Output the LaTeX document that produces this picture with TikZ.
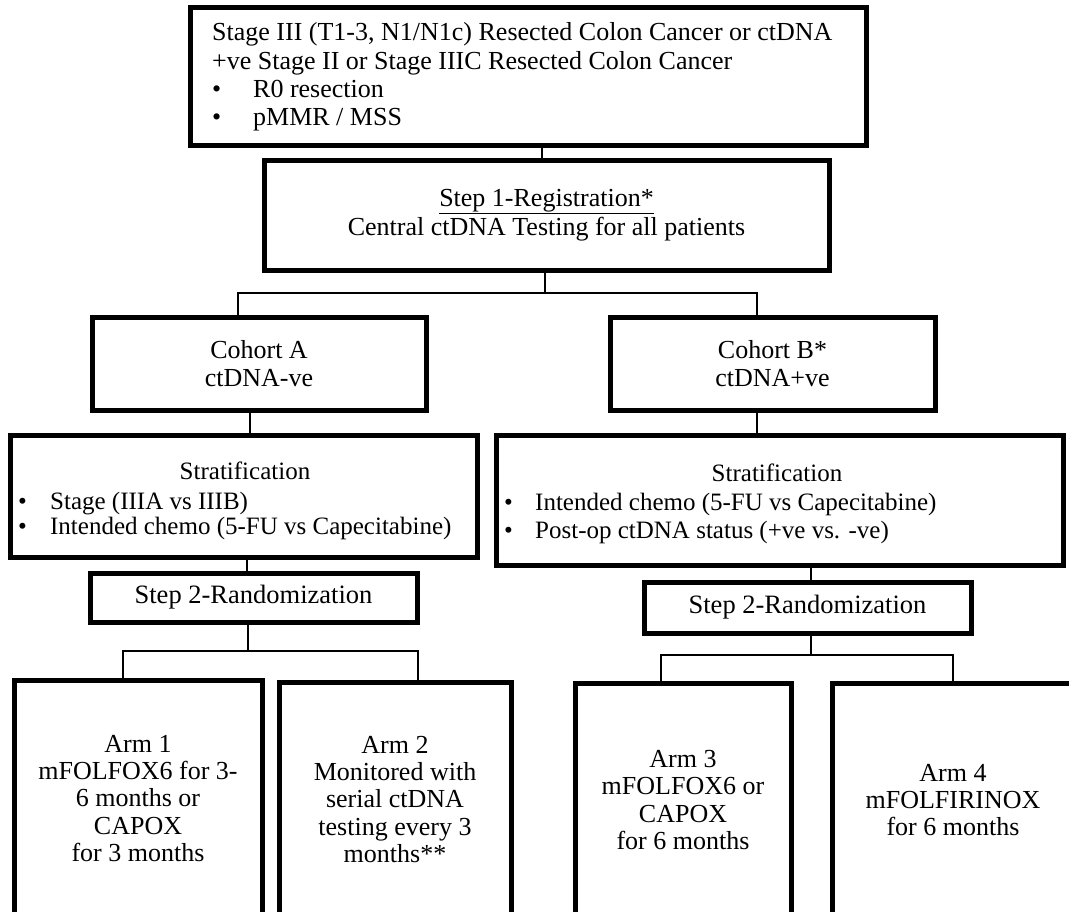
\documentclass[tikz,border=0pt]{standalone}
\usepackage{fontspec}
\setmainfont{Liberation Serif}
\begin{document}
\begin{tikzpicture}[x=1pt,y=-1pt,
  box/.style={draw=black, line width=5pt, fill=white, inner sep=0pt, align=center, font=\fontsize{26}{28}\selectfont},
  conn/.style={draw=black, line width=1.6pt},
  txt/.style={inner sep=0pt, font=\fontsize{26}{28}\selectfont},
  stxt/.style={inner sep=0pt, font=\fontsize{25}{28}\selectfont}]
\useasboundingbox (0,0) rectangle (1069,911);
\fill[white] (0,0) rectangle (1069,911);
\clip (0,0) rectangle (1069,911);

% boxes
\node[box, minimum width=676pt, minimum height=138pt] (top) at (528,76) {};
\node[txt, anchor=west, align=left, font=\fontsize{26}{28.4}\selectfont] (toptext) at (212,77)
 {Stage III (T1-3, N1/N1c) Resected Colon Cancer or ctDNA\\
  +ve Stage II or Stage IIIC Resected Colon Cancer\\
  \makebox[41pt][l]{\textbullet}R0 resection\\
  \makebox[41pt][l]{\textbullet}pMMR / MSS};

\node[box, minimum width=565pt, minimum height=110pt, font=\fontsize{26}{29}\selectfont] (step1) at (546.5,215)
 {\underline{Step 1-Registration*}\\Central ctDNA Testing for all patients};

\node[box, minimum width=334pt, minimum height=93pt] (cohA) at (259,363.5) {Cohort A\\ctDNA-ve};
\node[box, minimum width=325pt, minimum height=93pt] (cohB) at (772.5,363.5) {Cohort B*\\ctDNA+ve};

\node[box, minimum width=467pt, minimum height=122pt] (stratA) at (243.5,496) {};
\node[stxt, anchor=base] (stratAt) at (245,479) {Stratification};
\node[stxt, anchor=base west] (stratA1) at (18,509) {\makebox[32pt][l]{\textbullet}Stage (IIIA vs IIIB)};
\node[stxt, anchor=base west] (stratA2) at (18,534) {\makebox[32pt][l]{\textbullet}Intended chemo (5-FU vs Capecitabine)};

\node[box, minimum width=567pt, minimum height=130pt] (stratB) at (779.5,500) {};
\node[stxt, anchor=base] (stratBt) at (777,481) {Stratification};
\node[stxt, anchor=base west] (stratB1) at (504,510) {\makebox[31pt][l]{\textbullet}Intended chemo (5-FU vs Capecitabine)};
\node[stxt, anchor=base west] (stratB2) at (504,538) {\makebox[31pt][l]{\textbullet}Post-op ctDNA status (+ve vs. -ve)};

\node[box, minimum width=327pt, minimum height=49pt, font=\fontsize{26.5}{28}\selectfont] (randA) at (253.5,597.5) {Step 2-Randomization};
\node[box, minimum width=327pt, minimum height=51pt, font=\fontsize{26.5}{28}\selectfont] (randB) at (807.5,607.5) {Step 2-Randomization};

\node[box, minimum width=248pt, minimum height=237pt, font=\fontsize{26}{27.3}\selectfont] (arm1) at (138,798.5)
 {Arm 1\\mFOLFOX6 for 3-\\6 months or\\CAPOX\\for 3 months};
\node[box, minimum width=232pt, minimum height=235pt, font=\fontsize{26}{27.3}\selectfont] (arm2) at (395,799.5)
 {Arm 2\\Monitored with\\serial ctDNA\\testing every 3\\months**};
\node[box, minimum width=216pt, minimum height=234pt, font=\fontsize{26}{27.3}\selectfont] (arm3) at (683,800)
 {Arm 3\\mFOLFOX6 or\\CAPOX\\for 6 months};
\node[box, minimum width=242pt, minimum height=234pt, font=\fontsize{26}{27.3}\selectfont] (arm4) at (953,800)
 {Arm 4\\mFOLFIRINOX\\for 6 months};

% connectors
\coordinate (c1) at (542,0);
\draw[conn] (top.south -| c1) -- (step1.north -| c1);

\coordinate (j1) at (545,293);
\coordinate (jA) at (238,293);
\coordinate (jB) at (757,293);
\draw[conn] (step1.south -| j1) -- (j1);
\draw[conn] (cohA.north -| jA) -- (jA) -- (jB) -- (cohB.north -| jB);

\coordinate (c2) at (250,0);
\draw[conn] (cohA.south -| c2) -- (stratA.north -| c2);
\coordinate (c3) at (757,0);
\draw[conn] (cohB.south -| c3) -- (stratB.north -| c3);

\coordinate (c4) at (247,0);
\draw[conn] (stratA.south -| c4) -- (randA.north -| c4);
\coordinate (c5) at (811,0);
\draw[conn] (stratB.south -| c5) -- (randB.north -| c5);

\coordinate (k1) at (248,651);
\coordinate (k1a) at (123,651);
\coordinate (k1b) at (418,651);
\draw[conn] (randA.south -| k1) -- (k1);
\draw[conn] (arm1.north -| k1a) -- (k1a) -- (k1b) -- (arm2.north -| k1b);

\coordinate (k2) at (811,655);
\coordinate (k2a) at (661,655);
\coordinate (k2b) at (953,655);
\draw[conn] (randB.south -| k2) -- (k2);
\draw[conn] (arm3.north -| k2a) -- (k2a) -- (k2b) -- (arm4.north -| k2b);
\end{tikzpicture}
\end{document}
